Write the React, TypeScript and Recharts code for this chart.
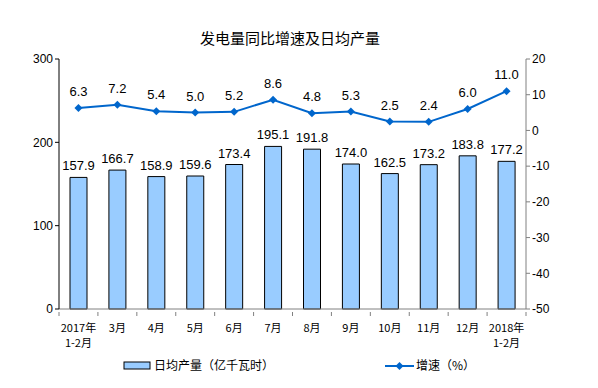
import {
  ComposedChart,
  Bar,
  Line,
  XAxis,
  YAxis,
  LabelList,
} from "recharts";

// ===== DATA =====
const months = [
  "2017年\n1-2月",
  "3月",
  "4月",
  "5月",
  "6月",
  "7月",
  "8月",
  "9月",
  "10月",
  "11月",
  "12月",
  "2018年\n1-2月",
];
const dailyOutput = [157.9, 166.7, 158.9, 159.6, 173.4, 195.1, 191.8, 174.0, 162.5, 173.2, 183.8, 177.2];
const growth = [6.3, 7.2, 5.4, 5.0, 5.2, 8.6, 4.8, 5.3, 2.5, 2.4, 6.0, 11.0];
const leftTicks = [0, 100, 200, 300];
const rightTicks = [-50, -40, -30, -20, -10, 0, 10, 20];

const chartData = months.map((m, i) => ({
  month: m,
  output: dailyOutput[i],
  growth: growth[i],
}));

// ===== LAYOUT =====
const W = 598;
const H = 388;
const PLOT_LEFT = 59;
const PLOT_RIGHT = 526;
const BAND = (PLOT_RIGHT - PLOT_LEFT) / months.length;
const NUM_FONT = "'Liberation Sans', Arial, sans-serif";
const CJK_FONT = "'Noto Sans CJK SC', sans-serif";
const LINE_COLOR = "#0066CC";
const BAR_COLOR = "#99CCFF";

// category label + boundary tick
const MonthTick = (props: any) => {
  const { x, y, payload, index } = props;
  const lines = String(payload.value).split("\n");
  return (
    <g>
      <line x1={x + BAND / 2} x2={x + BAND / 2} y1={y - 5} y2={y - 1} stroke="#808080" />
      {index === 0 && <line x1={x - BAND / 2} x2={x - BAND / 2} y1={y - 5} y2={y - 1} stroke="#808080" />}
      {lines.map((l, k) => (
        <text
          key={k}
          x={x}
          y={y + 15 + k * 15}
          textAnchor="middle"
          fontSize={11}
          fontFamily={CJK_FONT}
          fill="#000"
        >
          {l}
        </text>
      ))}
    </g>
  );
};

export default function App() {
  return (
    <div style={{ position: "absolute", left: 0, top: 0, width: W, height: H, background: "#fff" }}>
      <div
        style={{
          position: "absolute",
          top: 27,
          left: 0,
          width: 580,
          textAlign: "center",
          fontFamily: CJK_FONT,
          fontSize: 15,
          color: "#000",
        }}
      >
        发电量同比增速及日均产量
      </div>
      <ComposedChart
        width={W}
        height={H}
        data={chartData}
        margin={{ top: 59, right: 0, bottom: 39, left: 0 }}
      >
        <XAxis
          dataKey="month"
          yAxisId="left"
          interval={0}
          tickLine={false}
          axisLine={{ stroke: "#808080" }}
          tick={<MonthTick />}
          height={40}
        />
        <YAxis
          yAxisId="left"
          domain={[0, 300]}
          ticks={leftTicks}
          width={PLOT_LEFT}
          axisLine={{ stroke: "#000" }}
          tickLine={{ stroke: "#000" }}
          tickSize={4}
          tick={{ fontSize: 12, fontFamily: NUM_FONT, fill: "#000" }}
        />
        <YAxis
          yAxisId="right"
          orientation="right"
          domain={[-50, 20]}
          ticks={rightTicks}
          width={W - PLOT_RIGHT}
          axisLine={{ stroke: "#808080" }}
          tickLine={{ stroke: "#808080" }}
          tickSize={4}
          tick={{ fontSize: 12, fontFamily: NUM_FONT, fill: "#000" }}
        />
        <Bar
          yAxisId="left"
          dataKey="output"
          fill={BAR_COLOR}
          stroke="#000"
          strokeWidth={1}
          barSize={17}
          isAnimationActive={false}
        >
          <LabelList
            dataKey="output"
            position="top"
            offset={7}
            formatter={(v: any) => Number(v).toFixed(1)}
            style={{ fontSize: 13, fontFamily: NUM_FONT, fill: "#000" }}
          />
        </Bar>
        <Line
          yAxisId="right"
          dataKey="growth"
          stroke={LINE_COLOR}
          strokeWidth={2}
          isAnimationActive={false}
          dot={(p: any) => (
            <path
              key={p.index}
              d={`M${p.cx},${p.cy - 4}L${p.cx + 4},${p.cy}L${p.cx},${p.cy + 4}L${p.cx - 4},${p.cy}Z`}
              fill={LINE_COLOR}
            />
          )}
        >
          <LabelList
            dataKey="growth"
            position="top"
            offset={12}
            formatter={(v: any) => Number(v).toFixed(1)}
            style={{ fontSize: 13, fontFamily: NUM_FONT, fill: "#000" }}
          />
        </Line>
      </ComposedChart>
      {/* legend */}
      <svg style={{ position: "absolute", left: 0, top: 350 }} width={W} height={30}>
        <rect x={124} y={12} width={26} height={7} fill={BAR_COLOR} stroke="#000" />
        <text x={154} y={20} fontSize={12} fontFamily={CJK_FONT} fill="#000">
          日均产量（亿千瓦时）
        </text>
        <line x1={385} x2={414} y1={16} y2={16} stroke={LINE_COLOR} strokeWidth={2} />
        <path d="M399.5,12L403.5,16L399.5,20L395.5,16Z" fill={LINE_COLOR} />
        <text x={416} y={20} fontSize={12} fontFamily={CJK_FONT} fill="#000">
          增速（%）
        </text>
      </svg>
    </div>
  );
}
